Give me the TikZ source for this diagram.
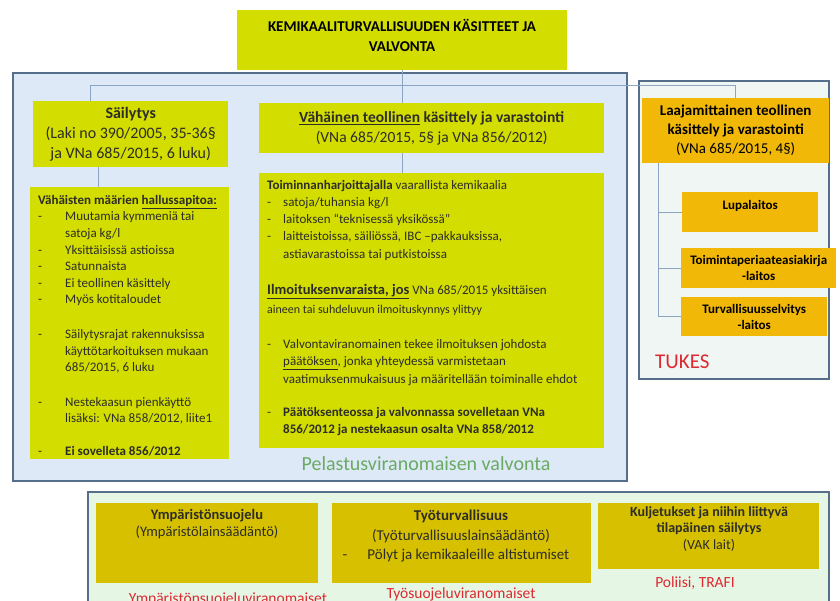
\documentclass[tikz,border=0pt]{standalone}
\usepackage{fontspec}
\setmainfont{Carlito}
\usetikzlibrary{positioning,calc}

\definecolor{ygreen}{RGB}{211,221,0}
\definecolor{amber}{RGB}{242,184,8}
\definecolor{mustard}{RGB}{214,192,0}
\definecolor{pelfill}{RGB}{221,233,246}
\definecolor{panelline}{RGB}{85,110,140}
\definecolor{tukesfill}{RGB}{240,246,243}
\definecolor{envfill}{RGB}{229,246,228}
\definecolor{connline}{RGB}{140,165,195}
\definecolor{txt}{RGB}{45,45,40}
\definecolor{authred}{RGB}{222,40,50}
\definecolor{pelgreen}{RGB}{105,170,100}

\newcommand{\bul}[1][27pt]{\makebox[#1][l]{-}}
\newcommand{\ind}[1][27pt]{\hspace*{#1}}

\begin{document}
\begin{tikzpicture}[x=1pt, y=-1pt,
    box/.style={rectangle, anchor=north west, inner sep=0pt, text=txt},
    ygbox/.style={box, fill=ygreen},
    ambox/.style={box, fill=amber, text=black},
    mubox/.style={box, fill=mustard},
    panel/.style={rectangle, anchor=north west, draw=panelline, line width=1.5pt},
    conn/.style={draw=connline, line width=1pt},
    note/.style={inner sep=0pt, text=txt, align=left, anchor=north west},
    authority/.style={inner sep=0pt, anchor=base, text=authred, font=\fontsize{15.5}{18}\selectfont}]
    \useasboundingbox (0,0) rectangle (840,600);

    % panels
    \node [panel, fill=pelfill, minimum width=614pt, minimum height=408pt] (pel) at (12,72) {};
    \node [panel, fill=tukesfill, minimum width=190pt, minimum height=298pt] (tukes) at (638,80) {};
    \node [panel, fill=envfill, minimum width=741pt, minimum height=130pt] (env) at (87,491) {};

    % top row
    \node [ygbox, minimum width=330pt, minimum height=60pt] (title) at (237,10) {};
    \node [inner sep=0pt, align=center, font=\bfseries\fontsize{15}{20}\selectfont] (titletxt) at (402,35) {KEMIKAALITURVALLISUUDEN KÄSITTEET JA\\VALVONTA};
    \node [ygbox, minimum width=195pt, minimum height=66pt, align=center, font=\fontsize{16}{20}\selectfont] (sail) at (33,101) {\textbf{Säilytys}\\(Laki no 390/2005, 35-36§\\ja VNa 685/2015, 6 luku)};
    \node [ygbox, minimum width=345pt, minimum height=50pt, align=center, font=\fontsize{15.5}{20}\selectfont] (vah) at (259,103) {\textbf{\underline{Vähäinen teollinen} käsittely ja varastointi}\\(VNa 685/2015, 5§ ja VNa 856/2012)};
    \node [ambox, minimum width=187pt, minimum height=65pt, align=center, font=\fontsize{15}{19}\selectfont] (laaja) at (642,98) {\textbf{Laajamittainen teollinen}\\\textbf{käsittely ja varastointi}\\(VNa 685/2015, 4§)};

    % connectors
    \draw [conn] (title.south) -- (title.south |- vah.north);
    \coordinate (sailtop) at ($(sail.north west)+(57,0)$);
    \draw [conn] (sailtop) -- ++(0,-16) -| ($(laaja.north west)+(93,0)$);
    \coordinate (sailbot) at ($(sail.south west)+(65,0)$);

    % lists
    \node [ygbox, minimum width=199pt, minimum height=272pt] (few) at (30,187) {};
    \draw [conn] (sailbot) -- (sailbot |- few.north);
    \node [note, font=\fontsize{13}{16.6}\selectfont] (fewtxt) at (38,195) {{\bfseries Vähäisten määrien \underline{hallussapitoa:}}\\
        \bul Muutamia kymmeniä tai\\
        \ind satoja kg/l\\
        \bul Yksittäisissä astioissa\\
        \bul Satunnaista\\
        \bul Ei teollinen käsittely\\
        \bul Myös kotitaloudet\\[18pt]
        \bul Säilytysrajat rakennuksissa\\
        \ind käyttötarkoituksen mukaan\\
        \ind 685/2015, 6 luku\\[18pt]
        \bul Nestekaasun pienkäyttö\\
        \ind lisäksi: VNa 858/2012, liite1\\[16pt]
        \bul\textbf{Ei sovelleta 856/2012}};

    \node [ygbox, minimum width=345pt, minimum height=275pt] (mid) at (259,173) {};
    \draw [conn] (vah.south -| title.south) -- (mid.north -| title.south);
    \node [note, font=\fontsize{13}{17.2}\selectfont] (midtxt) at (267,180) {{\bfseries Toiminnanharjoittajalla} vaarallista kemikaalia\\
        \bul[16pt]satoja/tuhansia kg/l\\
        \bul[16pt]laitoksen “teknisessä yksikössä”\\
        \bul[16pt]laitteistoissa, säiliössä, IBC –pakkauksissa,\\
        \ind[16pt]astiavarastoissa tai putkistoissa\\[19pt]
        {\fontsize{14.5}{17}\selectfont\bfseries\underline{Ilmoituksenvaraista, jos}} VNa 685/2015 yksittäisen\\[2pt]
        {\fontsize{12}{17}\selectfont aineen tai suhdeluvun ilmoituskynnys ylittyy}\\[18pt]
        \bul[16pt]Valvontaviranomainen tekee ilmoituksen johdosta\\
        \ind[16pt]\underline{päätöksen}, jonka yhteydessä varmistetaan\\
        \ind[16pt]vaatimuksenmukaisuus ja määritellään toiminalle ehdot\\[16pt]
        \bul[16pt]{\bfseries Päätöksenteossa ja valvonnassa sovelletaan VNa}\\
        \ind[16pt]{\bfseries 856/2012 ja nestekaasun osalta VNa 858/2012}};

    \node [inner sep=0pt, anchor=base, text=pelgreen, font=\fontsize{20}{24}\selectfont] (peltxt) at (426,470) {Pelastusviranomaisen valvonta};

    % TUKES side
    \node [ambox, minimum width=136pt, minimum height=40pt, text depth=14pt, font=\bfseries\fontsize{13}{16}\selectfont] (lupa) at (682,192) {Lupalaitos};
    \node [ambox, minimum width=155pt, minimum height=40pt, align=center, font=\bfseries\fontsize{13}{16}\selectfont] (toim) at (681,248) {Toimintaperiaateasiakirja\\-laitos};
    \node [ambox, minimum width=146pt, minimum height=39pt, align=center, font=\bfseries\fontsize{13}{16}\selectfont] (turv) at (681,297) {Turvallisuusselvitys\\-laitos};
    \coordinate (laajabot) at ($(laaja.south west)+(16,0)$);
    \foreach \b in {lupa,toim,turv}
        \draw [conn] (laajabot) |- (\b.west);
    \node [inner sep=0pt, anchor=base west, text=authred, font=\fontsize{21}{24}\selectfont] (tukestxt) at (655,368) {TUKES};

    % other authorities
    \node [mubox, minimum width=222pt, minimum height=80pt] (ymp) at (96,503) {};
    \node [inner sep=0pt, anchor=north, align=center, text=txt, font=\fontsize{14.5}{17}\selectfont] (ymptxt) at (207,509) {\textbf{Ympäristönsuojelu}\\(Ympäristölainsäädäntö)};
    \node [mubox, minimum width=259pt, minimum height=80pt] (tyo) at (332,503) {};
    \node [inner sep=0pt, anchor=north, align=center, text=txt, font=\fontsize{15}{19.5}\selectfont] (tyotxt) at (461,510) {\textbf{Työturvallisuus}\\(Työturvallisuuslainsäädäntö)\\\makebox[237pt][l]{\bul[25pt]Pölyt ja kemikaaleille altistumiset}};
    \node [mubox, minimum width=221pt, minimum height=66pt] (kulj) at (598,503) {};
    \node [inner sep=0pt, anchor=north, align=center, text=txt, font=\fontsize{14}{16.5}\selectfont] (kuljtxt) at (709,506) {\textbf{Kuljetukset ja niihin liittyvä}\\\textbf{tilapäinen säilytys}\\(VAK lait)};

    \node [authority] (ympauth) at (228,603) {Ympäristönsuojeluviranomaiset};
    \node [authority] (tyoauth) at (461,598) {Työsuojeluviranomaiset};
    \node [authority] (kuljauth) at (695,587) {Poliisi, TRAFI};
\end{tikzpicture}
\end{document}
